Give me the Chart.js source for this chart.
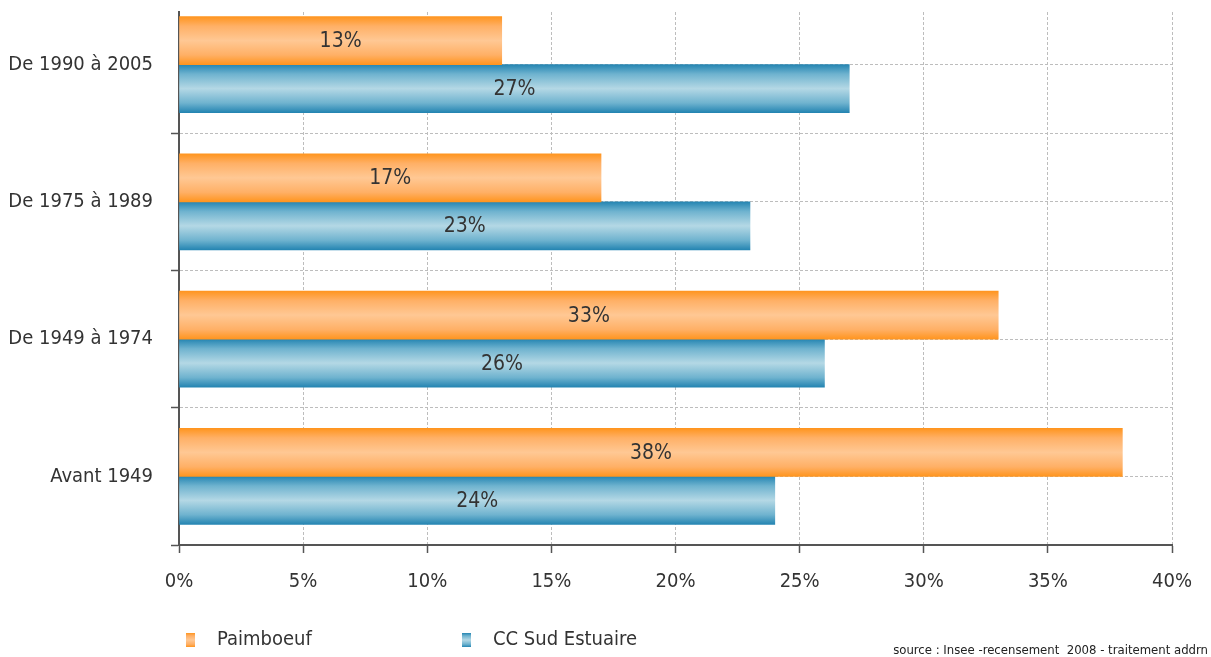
<!DOCTYPE html>
<html>
<head>
<meta charset="utf-8">
<script src="https://cdn.jsdelivr.net/npm/chart.js@4/dist/chart.umd.min.js"></script>
<style>
  html, body { margin: 0; padding: 0; background: #fff; }
  #wrap { width: 1211px; height: 657px; position: relative; }
</style>
</head>
<body>
<div id="wrap"><canvas id="chart"></canvas></div>
<script>
const categories = ['De 1990 à 2005', 'De 1975 à 1989', 'De 1949 à 1974', 'Avant 1949'];
const paimboeuf = [13, 17, 33, 38];
const ccSudEstuaire = [27, 23, 26, 24];
const seriesNames = ['Paimboeuf', 'CC Sud Estuaire'];
const xTickValues = [0, 5, 10, 15, 20, 25, 30, 35, 40];
const sourceText = 'source : Insee -recensement  2008 - traitement addrn';

const FONT = "'DejaVu Sans Condensed', 'DejaVu Sans', sans-serif";
const BAR = 48;

// dark edge / light middle, like the original shaded bars
const palettes = [
  ['#ff951f', '#ffb066', '#ffc894'],
  ['#2585b2', '#6fb3cf', '#b4d8e5']
];

function shade(ctx, top, h, p) {
  const g = ctx.createLinearGradient(0, top, 0, top + h);
  g.addColorStop(0, p[0]);
  g.addColorStop(0.2, p[1]);
  g.addColorStop(0.5, p[2]);
  g.addColorStop(0.8, p[1]);
  g.addColorStop(1, p[0]);
  return g;
}

function barFill(context) {
  const chart = context.chart;
  const y = chart.scales.y;
  if (!y || !chart.chartArea) return palettes[context.datasetIndex][1];
  const center = y.getPixelForValue(context.dataIndex);
  const top = center - BAR + context.datasetIndex * BAR;
  return shade(chart.ctx, top, BAR, palettes[context.datasetIndex]);
}

function toPoints(arr) {
  return arr.map((v, i) => ({ x: v, y: i }));
}

const barLabels = {
  id: 'barLabels',
  afterDatasetsDraw(chart) {
    const ctx = chart.ctx;
    ctx.save();
    ctx.font = '21px ' + FONT;
    ctx.fillStyle = '#333';
    ctx.textAlign = 'center';
    ctx.textBaseline = 'middle';
    chart.data.datasets.forEach((ds, di) => {
      chart.getDatasetMeta(di).data.forEach((el, i) => {
        ctx.fillText(ds.data[i].x + '%', (el.x + el.base) / 2, el.y + 1);
      });
    });
    ctx.restore();
  }
};

const bottomLegend = {
  id: 'bottomLegend',
  afterDraw(chart) {
    const ctx = chart.ctx;
    const ly = chart.chartArea.bottom + 95;
    const xs = [186, 462];
    ctx.save();
    ctx.textBaseline = 'middle';
    ctx.textAlign = 'left';
    chart.data.datasets.forEach((ds, di) => {
      ctx.fillStyle = shade(ctx, ly - 7, 14, palettes[di]);
      ctx.fillRect(xs[di], ly - 7, 9, 14);
      ctx.fillStyle = '#333';
      ctx.font = '20px ' + FONT;
      ctx.fillText(ds.label, xs[di] + 31, ly);
    });
    ctx.font = '13px ' + FONT;
    ctx.textAlign = 'right';
    ctx.fillStyle = '#222';
    ctx.fillText(sourceText, 1208, ly + 11);
    ctx.restore();
  }
};

new Chart(document.getElementById('chart'), {
  type: 'bar',
  data: {
    datasets: [
      { label: seriesNames[0], data: toPoints(paimboeuf), backgroundColor: barFill, barThickness: BAR },
      { label: seriesNames[1], data: toPoints(ccSudEstuaire), backgroundColor: barFill, barThickness: BAR }
    ]
  },
  options: {
    indexAxis: 'y',
    responsive: true,
    maintainAspectRatio: false,
    animation: false,
    layout: { padding: { left: 0, top: 12, right: 39, bottom: 52 } },
    plugins: {
      legend: { display: false },
      tooltip: { enabled: false }
    },
    scales: {
      x: {
        type: 'linear',
        min: 0,
        max: 40,
        afterBuildTicks: s => { s.ticks = xTickValues.map(v => ({ value: v })); },
        afterFit: s => { s.height = 60; },
        ticks: {
          font: { family: FONT, size: 20 },
          color: '#333',
          padding: 17,
          callback: v => v + '%'
        },
        grid: {
          color: '#bdbdbd',
          tickColor: '#555',
          tickLength: 8,
          tickWidth: 1.5
        },
        border: { color: '#555', width: 2, dash: [3, 2] }
      },
      y: {
        type: 'linear',
        reverse: true,
        offset: false,
        min: -0.383,
        max: 3.5,
        afterBuildTicks: s => {
          s.ticks = [0, 0.5, 1, 1.5, 2, 2.5, 3, 3.5].map(v => ({ value: v }));
        },
        afterFit: s => { s.width = 179; s.paddingTop = 0; s.paddingBottom = 0; },
        ticks: {
          autoSkip: false,
          font: { family: FONT, size: 20 },
          color: '#333',
          padding: 18,
          callback: v => Number.isInteger(v) ? categories[v] : ''
        },
        grid: {
          offset: false,
          color: '#bdbdbd',
          tickColor: c => (c.tick && !Number.isInteger(c.tick.value)) ? '#555' : 'rgba(0,0,0,0)',
          tickLength: 8,
          tickWidth: 1.5
        },
        border: { color: '#555', width: 2, dash: [3, 2] }
      }
    }
  },
  plugins: [barLabels, bottomLegend]
});
</script>
</body>
</html>
